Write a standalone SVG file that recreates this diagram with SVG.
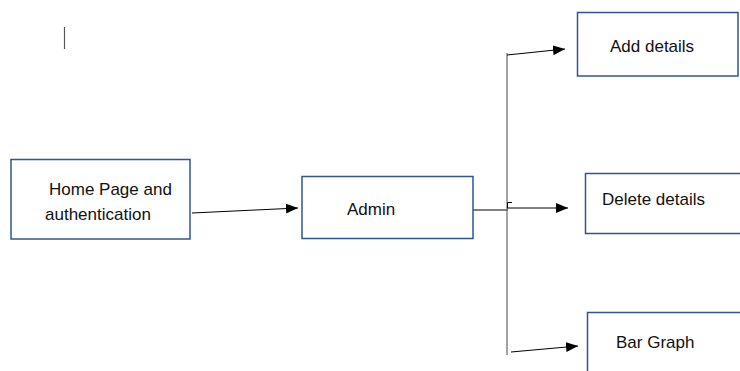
<svg xmlns="http://www.w3.org/2000/svg" width="740" height="371" viewBox="0 0 740 371">
<style>
.box{fill:#fff;stroke:#2F5597;stroke-width:1.5}
.t{font-family:"Liberation Sans",Arial,sans-serif;font-size:17px;fill:#111}
.ln{stroke:#000;stroke-width:1;fill:none}
.gl{stroke:#666;stroke-width:1.2;fill:none}
</style>
<defs>
<marker id="ah" markerWidth="12" markerHeight="10" refX="12" refY="5" orient="auto" markerUnits="userSpaceOnUse">
<path d="M0,0 L12,5 L0,10 Z" fill="#000"/>
</marker>
</defs>
<rect width="740" height="371" fill="#fff"/>
<line x1="64.5" y1="27" x2="64.5" y2="49" stroke="#555" stroke-width="1.2"/>
<g id="connectors">
<line class="ln" x1="192" y1="213" x2="298" y2="208" marker-end="url(#ah)"/>
<line class="ln" x1="472" y1="210" x2="508" y2="210"/>
<line class="gl" x1="507" y1="53" x2="507" y2="355"/>
<path class="ln" d="M507.5,208 V202.5 H512"/>
<line class="ln" x1="507" y1="208" x2="568" y2="208" marker-end="url(#ah)"/>
<line class="ln" x1="507" y1="55" x2="565" y2="49" marker-end="url(#ah)"/>
<line class="ln" x1="511" y1="352" x2="578" y2="346" marker-end="url(#ah)"/>
</g>
<g id="home">
<rect class="box" x="11" y="159.5" width="179" height="79.5"/>
<text class="t" x="49" y="195">Home Page and</text>
<text class="t" x="45" y="220">authentication</text>
</g>
<g id="admin">
<rect class="box" x="302" y="176.5" width="171" height="62"/>
<text class="t" x="347" y="215">Admin</text>
</g>
<g id="add">
<rect class="box" x="577.5" y="12.5" width="160.5" height="63.5"/>
<text class="t" x="610" y="52">Add details</text>
</g>
<g id="delete">
<rect class="box" x="585.5" y="173.5" width="160" height="60"/>
<text class="t" x="602" y="205">Delete details</text>
</g>
<g id="bargraph">
<rect class="box" x="587.5" y="312.5" width="160" height="70"/>
<text class="t" x="616" y="348">Bar Graph</text>
</g>
</svg>
